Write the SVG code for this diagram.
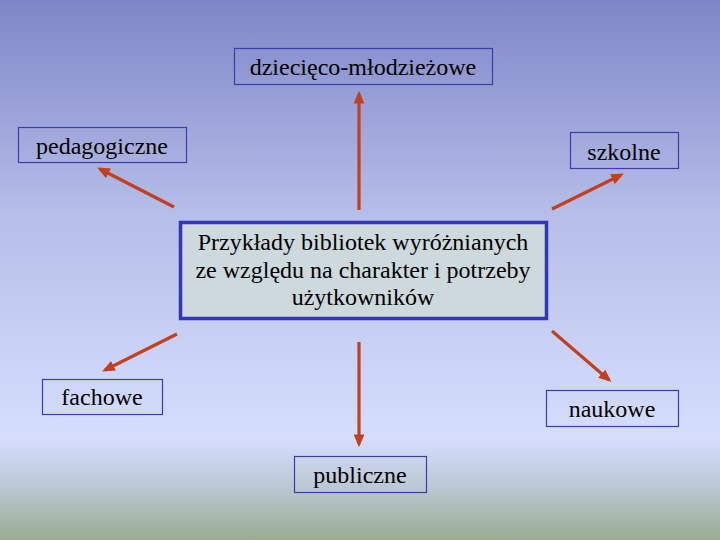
<svg xmlns="http://www.w3.org/2000/svg" width="720" height="540" viewBox="0 0 720 540">
<defs>
<linearGradient id="bg" x1="0" y1="0" x2="0" y2="1">
<stop offset="0" stop-color="#7f86c8"/>
<stop offset="0.4" stop-color="#b6bee9"/>
<stop offset="0.81" stop-color="#d6defe"/>
<stop offset="0.9" stop-color="#bcc8d4"/>
<stop offset="1" stop-color="#98ad90"/>
</linearGradient>
<marker id="ah" markerWidth="4" markerHeight="3.4" refX="3" refY="1.7" orient="auto" markerUnits="strokeWidth">
<path d="M0,0 L4,1.7 L0,3.4 Z" fill="#c2401e"/>
</marker>
</defs>
<style>
.box{fill:none;stroke:#3a3ea6;stroke-width:1.2}
text{font-family:'Liberation Serif','Times New Roman',serif;fill:#000;text-anchor:middle}
.lbl{font-size:24px}
.ctr{font-size:24px}
.arr{stroke:#c2401e;stroke-width:3.2;fill:none;marker-end:url(#ah)}
</style>
<rect width="720" height="540" fill="url(#bg)"/>
<g id="connectors">
<line class="arr" x1="359" y1="210" x2="359" y2="94"/>
<line class="arr" x1="174" y1="207" x2="100" y2="169"/>
<line class="arr" x1="552" y1="209" x2="621" y2="175"/>
<line class="arr" x1="177" y1="334" x2="105" y2="370"/>
<line class="arr" x1="552" y1="331" x2="609" y2="380"/>
<line class="arr" x1="359" y1="342" x2="359" y2="444"/>
</g>
<g id="center" font-family="Liberation Serif, serif">
<rect x="180.5" y="222.5" width="366" height="96" fill="#cdd9dc" stroke="#3535b8" stroke-width="3.5"/>
<text class="ctr" x="363" y="250">Przykłady bibliotek wyróżnianych</text>
<text class="ctr" x="363" y="278">ze względu na charakter i potrzeby</text>
<text class="ctr" x="363" y="305">użytkowników</text>
</g>
<g id="n-dm" font-family="Liberation Serif, serif">
<rect class="box" x="234.5" y="48.5" width="258" height="36"/>
<text class="lbl" x="363" y="75">dziecięco-młodzieżowe</text>
</g>
<g id="n-ped" font-family="Liberation Serif, serif">
<rect class="box" x="18.5" y="127.5" width="168" height="35"/>
<text class="lbl" x="102" y="154">pedagogiczne</text>
</g>
<g id="n-szk" font-family="Liberation Serif, serif">
<rect class="box" x="570.5" y="132.5" width="108" height="36"/>
<text class="lbl" x="624" y="160">szkolne</text>
</g>
<g id="n-fach" font-family="Liberation Serif, serif">
<rect class="box" x="42.5" y="379.5" width="120" height="35"/>
<text class="lbl" x="102" y="405">fachowe</text>
</g>
<g id="n-nauk" font-family="Liberation Serif, serif">
<rect class="box" x="546.5" y="390.5" width="132" height="36"/>
<text class="lbl" x="612" y="417">naukowe</text>
</g>
<g id="n-publ" font-family="Liberation Serif, serif">
<rect class="box" x="294.5" y="456.5" width="132" height="36"/>
<text class="lbl" x="360" y="483">publiczne</text>
</g>
</svg>
